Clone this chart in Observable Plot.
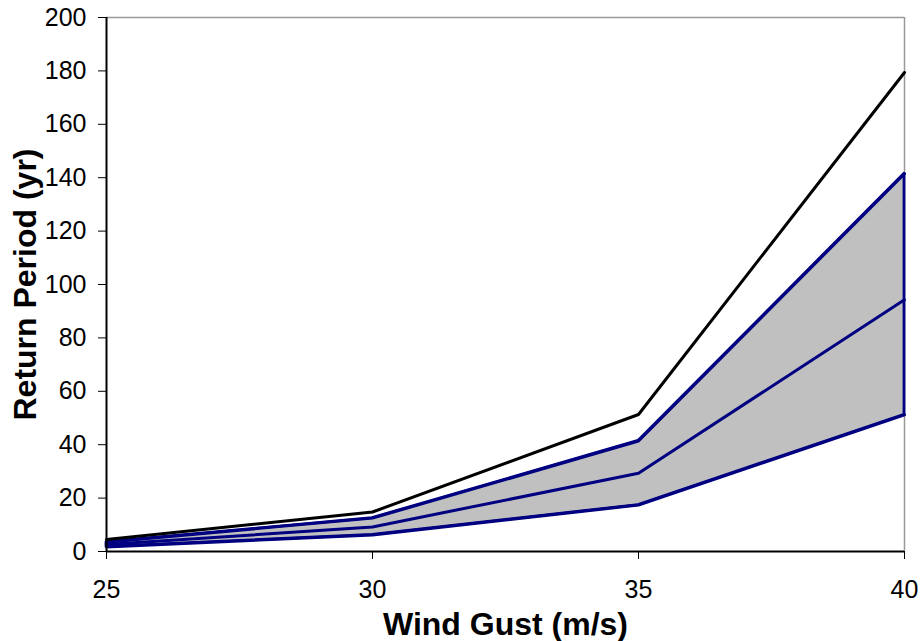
<!DOCTYPE html>
<html>
<head>
<meta charset="utf-8">
<script src="https://cdn.jsdelivr.net/npm/d3@7"></script>
<script src="https://cdn.jsdelivr.net/npm/@observablehq/plot@0.6"></script>
<style>
  html, body { margin: 0; padding: 0; background: #fff; }
  svg { display: block; }
</style>
</head>
<body>
<div id="chart"></div>
<script>
const windGust = [25, 30, 35, 40];
const upperBound = [3.5, 12.5, 41.4, 141.5];
const central = [2.6, 9.2, 29.3, 94.3];
const lowerBound = [1.7, 6.2, 17.4, 51.2];
const otherEstimate = [4.5, 14.8, 51.3, 179.4];
const xTicks = [25, 30, 35, 40];
const yTicks = [0, 20, 40, 60, 80, 100, 120, 140, 160, 180, 200];

const band = windGust.map((x, i) => ({x, lo: lowerBound[i], hi: upperBound[i]}));
const toPts = arr => windGust.map((x, i) => ({x, y: arr[i]}));

const font = "Liberation Sans, Arial, Helvetica, sans-serif";

const chart = Plot.plot({
  width: 920,
  height: 641,
  marginLeft: 106,
  marginRight: 16,
  marginTop: 17,
  marginBottom: 90,
  style: {fontFamily: font, fontSize: "25px", background: "#fff", color: "#000"},
  x: {domain: [25, 40]},
  y: {domain: [0, 200]},
  marks: [
    Plot.ruleY([200], {stroke: "#999", strokeWidth: 1.5}),
    Plot.ruleX([40], {stroke: "#999", strokeWidth: 1.5}),
    Plot.areaY(band, {x: "x", y1: "lo", y2: "hi", fill: "#c0c0c0", stroke: "#000080", strokeWidth: 2.8, strokeLinejoin: "round"}),
    Plot.line(toPts(upperBound), {x: "x", y: "y", stroke: "#000080", strokeWidth: 3}),
    Plot.line(toPts(central), {x: "x", y: "y", stroke: "#000080", strokeWidth: 3}),
    Plot.line(toPts(lowerBound), {x: "x", y: "y", stroke: "#000080", strokeWidth: 3}),
    Plot.line(toPts(otherEstimate), {x: "x", y: "y", stroke: "#000", strokeWidth: 3}),
    Plot.axisX({ticks: xTicks, tickSize: 8, tickPadding: 21, tickFormat: d => String(d), label: null, fontSize: 25, stroke: "#000"}),
    Plot.axisY({ticks: yTicks, tickSize: 8, tickPadding: 12, tickFormat: d => String(d), label: null, fontSize: 25}),
    Plot.ruleY([0], {stroke: "#000", strokeWidth: 2}),
    Plot.ruleX([25], {stroke: "#000", strokeWidth: 2}),
    Plot.text(["Wind Gust (m/s)"], {frameAnchor: "bottom", dy: 73, lineAnchor: "middle", textAnchor: "middle", fontWeight: "bold", fontSize: 32, fill: "#000"}),
    Plot.text(["Return Period (yr)"], {frameAnchor: "left", dx: -81, rotate: -90, lineAnchor: "middle", textAnchor: "middle", fontWeight: "bold", fontSize: 32, fill: "#000"})
  ]
});
d3.select(chart).selectAll('g[aria-label$="tick label"] text').attr("font-size", 25).style("font-size", "25px");
document.getElementById("chart").appendChild(chart);
</script>
</body>
</html>
